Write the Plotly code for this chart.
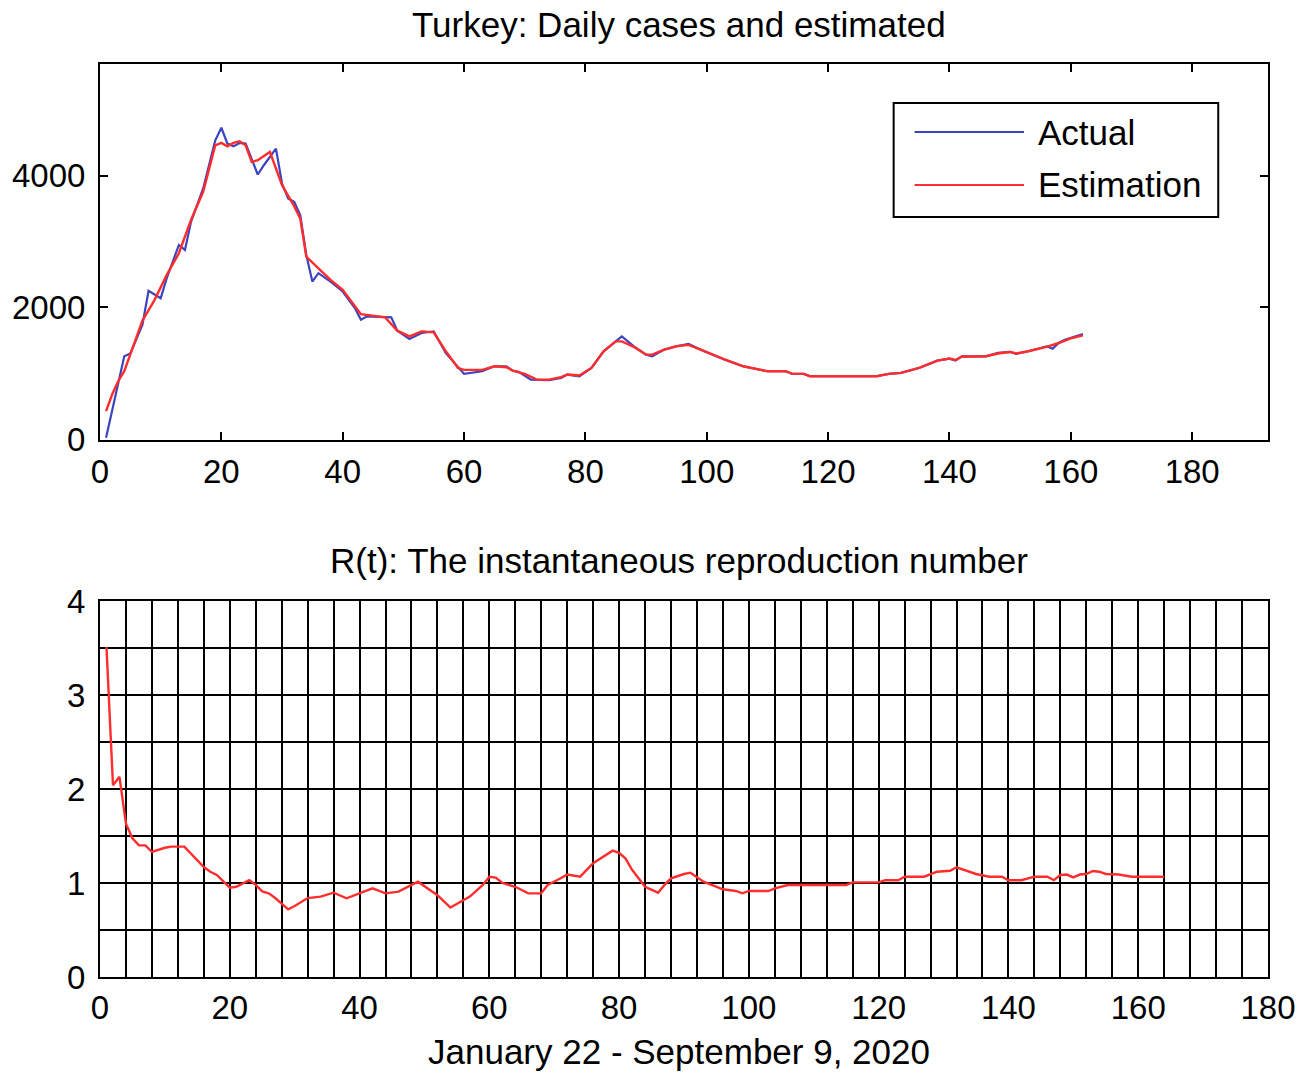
import plotly.graph_objects as go

# ---------------- data ----------------
actual_days = [1, 3, 4, 5, 7, 8, 10, 11, 13, 14,
               15, 16, 17, 19, 20, 21, 22, 23, 24, 26,
               27, 29, 30, 31, 32, 33, 34, 35, 36, 38,
               40, 42, 43, 44, 48, 49, 51, 53, 55, 57,
               60, 63, 65, 67, 68, 69, 71, 74, 76, 77,
               79, 81, 83, 85, 86, 88, 90, 91, 93, 95,
               97, 99, 102, 103, 106, 108, 110, 113, 114, 116,
               117, 128, 130, 132, 135, 138, 140, 141, 142, 146,
               148, 150, 151, 153, 156, 157, 158, 159, 160, 162]
actual_cases = [20, 880, 1257, 1300, 1737, 2252, 2140, 2444, 2949, 2874,
                3300, 3555, 3808, 4540, 4731, 4490, 4448, 4500, 4490, 4020,
                4161, 4413, 3883, 3656, 3605, 3403, 2797, 2393, 2520, 2393,
                2242, 1990, 1813, 1864, 1848, 1646, 1520, 1611, 1636, 1307,
                989, 1030, 1105, 1105, 1040, 1020, 903, 893, 929, 979,
                954, 1080, 1333, 1484, 1560, 1409, 1282, 1257, 1358, 1409,
                1444, 1358, 1242, 1206, 1105, 1070, 1030, 1030, 994, 989,
                954, 954, 989, 1005, 1080, 1191, 1222, 1191, 1257, 1257,
                1308, 1323, 1293, 1333, 1409, 1373, 1459, 1510, 1535, 1595]

est_days = [1, 2, 3, 4, 7, 8, 9, 11, 13, 15,
            17, 19, 20, 21, 22, 23, 24, 25, 26, 28,
            30, 31, 32, 33, 34, 36, 38, 40, 42, 43,
            47, 49, 51, 53, 55, 57, 59, 60, 63, 65,
            67, 68, 70, 72, 74, 76, 77, 79, 81, 83,
            85, 86, 88, 90, 91, 93, 95, 97, 99, 102,
            103, 106, 108, 110, 113, 114, 116, 117, 128, 130,
            132, 135, 138, 140, 141, 142, 146, 148, 150, 151,
            153, 156, 158, 160, 162]
est_cases = [423, 676, 880, 1030, 1800, 1950, 2115, 2494, 2823, 3328,
             3757, 4464, 4500, 4448, 4500, 4525, 4464, 4212, 4237, 4363,
             3858, 3700, 3540, 3353, 2772, 2595, 2419, 2267, 2015, 1898,
             1848, 1646, 1560, 1636, 1620, 1333, 1080, 1050, 1050, 1105,
             1090, 1040, 990, 903, 903, 940, 979, 965, 1080, 1333,
             1484, 1484, 1400, 1282, 1282, 1358, 1409, 1430, 1358, 1242,
             1206, 1105, 1070, 1030, 1030, 994, 989, 954, 954, 989,
             1005, 1080, 1191, 1222, 1200, 1250, 1257, 1300, 1323, 1300,
             1333, 1400, 1459, 1530, 1575]

r_days = [1, 2, 3, 4, 5, 6, 7, 8, 10, 11,
          13, 14, 16, 17, 18, 20, 21, 23, 24, 25,
          26, 27, 29, 30, 32, 34, 36, 38, 40, 42,
          44, 46, 49, 52, 54, 57, 59, 60, 61, 62,
          64, 66, 68, 69, 71, 72, 74, 76, 79, 80,
          81, 82, 84, 86, 87, 88, 90, 91, 93, 96,
          98, 99, 100, 103, 104, 106, 115, 116, 120, 121,
          123, 124, 127, 129, 131, 132, 135, 137, 139, 140,
          142, 144, 146, 147, 148, 149, 150, 151, 152, 153,
          154, 155, 157, 159, 164]
r_values = [3.51, 2.04, 2.13, 1.63, 1.475, 1.40, 1.40, 1.33, 1.375, 1.387,
            1.387, 1.316, 1.17, 1.12, 1.085, 0.95, 0.96, 1.03, 0.98, 0.91,
            0.89, 0.84, 0.72, 0.755, 0.84, 0.855, 0.897, 0.837, 0.89, 0.943,
            0.89, 0.908, 1.014, 0.87, 0.738, 0.855, 0.979, 1.067, 1.057, 1.0,
            0.96, 0.89, 0.89, 0.98, 1.05, 1.09, 1.067, 1.21, 1.344, 1.32,
            1.26, 1.14, 0.96, 0.897, 0.98, 1.05, 1.096, 1.11, 1.014, 0.933,
            0.915, 0.89, 0.915, 0.915, 0.943, 0.979, 0.979, 1.007, 1.007, 1.03,
            1.03, 1.067, 1.067, 1.12, 1.13, 1.167, 1.096, 1.067, 1.067, 1.03,
            1.03, 1.067, 1.067, 1.03, 1.085, 1.09, 1.06, 1.09, 1.096, 1.128,
            1.12, 1.096, 1.09, 1.067, 1.067]

x_ticks = [0, 20, 40, 60, 80, 100, 120, 140, 160, 180]
top_y_ticks = [0, 2000, 4000]
bottom_y_ticks = [0, 1, 2, 3, 4]

title_top = "Turkey: Daily cases and estimated"
title_bottom = "R(t): The instantaneous reproduction number"
x_title = "January 22 - September 9, 2020"
legend_names = ["Actual", "Estimation"]

BLUE = "rgb(60,68,190)"
RED = "rgb(255,45,45)"
FONT = "Liberation Sans, Arial, Helvetica, sans-serif"

fig = go.Figure()
fig.add_trace(go.Scatter(x=actual_days, y=actual_cases, mode="lines",
                         line=dict(color=BLUE, width=2.2), name=legend_names[0],
                         xaxis="x", yaxis="y", showlegend=False))
fig.add_trace(go.Scatter(x=est_days, y=est_cases, mode="lines",
                         line=dict(color=RED, width=2.4), name=legend_names[1],
                         xaxis="x", yaxis="y", showlegend=False))
fig.add_trace(go.Scatter(x=r_days, y=r_values, mode="lines",
                         line=dict(color=RED, width=2.4), name="R(t)",
                         xaxis="x2", yaxis="y2", showlegend=False))

axis_common = dict(showline=True, linecolor="black", linewidth=2, mirror="ticks",
                   ticks="inside", ticklen=8, tickwidth=2, tickcolor="black",
                   zeroline=False, tickfont=dict(family=FONT, size=33, color="black"))

fig.update_layout(
    width=1312, height=1077,
    margin=dict(l=95, r=44, t=64, b=100),
    paper_bgcolor="white", plot_bgcolor="white",
    font=dict(family=FONT, color="black"),
    xaxis=dict(domain=[0, 1], range=[0, 192.5], tickvals=x_ticks, showgrid=False,
               anchor="y", ticklabelstandoff=1, **axis_common),
    yaxis=dict(domain=[0.5882, 1], range=[-15, 5700], tickvals=top_y_ticks,
               showgrid=False, anchor="x", ticklabelstandoff=6, **axis_common),
    xaxis2=dict(domain=[0, 1], range=[0, 180], tickvals=x_ticks, anchor="y2",
                showgrid=True, gridcolor="black", gridwidth=2,
                minor=dict(dtick=4, tick0=0, showgrid=True, gridcolor="black", gridwidth=2),
                ticklabelstandoff=0, **axis_common),
    yaxis2=dict(domain=[0, 0.4118], range=[0, 4], tickvals=bottom_y_ticks, anchor="x2",
                showgrid=True, gridcolor="black", gridwidth=2,
                minor=dict(dtick=0.5, tick0=0, showgrid=True, gridcolor="black", gridwidth=2),
                ticklabelstandoff=6, **axis_common),
)

# titles
fig.add_annotation(text=title_top, xref="paper", yref="paper", x=0.4953, y=1.0438,
                   xanchor="center", yanchor="middle", showarrow=False,
                   font=dict(family=FONT, size=35, color="black"))
fig.add_annotation(text=title_bottom, xref="paper", yref="paper", x=0.4953, y=0.4567,
                   xanchor="center", yanchor="middle", showarrow=False,
                   font=dict(family=FONT, size=35, color="black"))
fig.add_annotation(text=x_title, xref="paper", yref="paper", x=0.4953, y=-0.0821,
                   xanchor="center", yanchor="middle", showarrow=False,
                   font=dict(family=FONT, size=35, color="black"))

# legend (drawn as a MATLAB-style box with long sample lines)
fig.add_shape(type="rect", xref="paper", yref="paper", x0=0.6795, x1=0.9574,
              y0=0.8324, y1=0.9573, line=dict(color="black", width=2), fillcolor="white",
              layer="above")
for name, col, yy in [(legend_names[0], BLUE, 0.9255), (legend_names[1], RED, 0.8675)]:
    fig.add_shape(type="line", xref="paper", yref="paper", x0=0.6974, x1=0.7911,
                  y0=yy, y1=yy, line=dict(color=col, width=2), layer="above")
    fig.add_annotation(text=name, xref="paper", yref="paper", x=0.8014, y=yy,
                       xanchor="left", yanchor="middle", showarrow=False,
                       font=dict(family=FONT, size=35, color="black"))

fig.write_html("out.html", config={"displayModeBar": False},
               post_script="document.body.style.margin='0';")
